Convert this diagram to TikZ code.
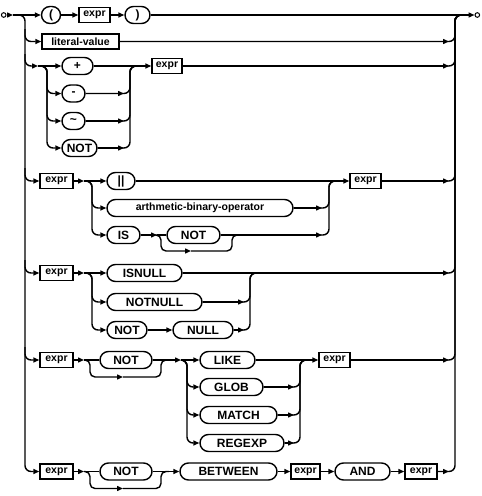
\documentclass[tikz,border=0pt]{standalone}
\usepackage{fontspec}
\setmainfont{Liberation Sans}
\usetikzlibrary{arrows.meta,calc}
\tikzset{
 rail/.style={line width=1.4pt},
 arr/.style={-{Triangle[length=6pt,width=5pt]}},
 rc/.style={rounded corners=6pt},
 rs/.style={rounded corners=5pt},
 kw/.style={draw, line width=1.4pt, rounded corners=8.5pt, minimum height=17pt, inner sep=0pt, font=\fontsize{12}{12}\selectfont\bfseries},
 bx/.style={draw, line width=1.4pt, minimum height=15pt, inner sep=0pt, font=\fontsize{10.5}{10.5}\selectfont\bfseries},
 term/.style={draw, circle, line width=1pt, minimum size=4.6pt, inner sep=0pt},
}
\begin{document}
\begin{tikzpicture}[x=1pt,y=-1pt]
\useasboundingbox (0,0) rectangle (482,496);

% ---------- junction coordinates ----------
\coordinate (a1) at (13,15);
\coordinate (Lm) at (25,300);
\coordinate (L2) at (25,29);
\coordinate (L3) at (25,54);
\coordinate (L4) at (25,168);
\coordinate (L5) at (25,260);
\coordinate (L6) at (25,347);
\coordinate (R1) at (455,15);
\coordinate (c3) at (38,66);
\coordinate (s3) at (47,66);
\coordinate (mg3) at (130,66);
\coordinate (c4) at (84,181);
\coordinate (s4) at (92,181);
\coordinate (c4b) at (157,235);
\coordinate (s4b) at (161,235);
\coordinate (b4) at (191,251);
\coordinate (mo4) at (232,235);
\coordinate (mg4) at (329,181);
\coordinate (c5) at (84,273);
\coordinate (s5) at (92,273);
\coordinate (mg5) at (250,273);
\coordinate (c6) at (84,360);
\coordinate (s6) at (90,360);
\coordinate (b6) at (123,377);
\coordinate (mo6) at (161,360);
\coordinate (c6b) at (181,360);
\coordinate (s6b) at (187,360);
\coordinate (mg6) at (300,360);
\coordinate (c7) at (84,471.5);
\coordinate (s7) at (90,471.5);
\coordinate (b7) at (123,488.5);
\coordinate (mo7) at (161,471.5);

% ---------- nodes ----------
\node[term] (S) at (3.7,15) {};
\node[term] (E) at (477.3,15) {};
% row 1
\node[kw, minimum width=19pt] (lp) at (51,15) {(};
\node[bx, minimum width=31pt] (e1) at (94.5,15) {expr};
\node[kw, minimum width=25pt] (rp) at (137.5,15) {)};
% row 2
\node[bx, minimum width=77pt] (lit) at (80.5,41.5) {literal-value};
% row 3
\node[kw, minimum width=31pt] (plus) at (77.5,66) {+};
\node[kw, minimum width=23pt] (minus) at (73.5,93.5) {-};
\node[kw, minimum width=23pt] (tilde) at (73.5,121) {\textasciitilde};
\node[kw, minimum width=35pt] (not3) at (79.5,148) {NOT};
\node[bx, minimum width=30pt] (e3) at (167,66) {expr};
% row 4
\node[bx, minimum width=33pt] (e4) at (56.5,181) {expr};
\node[kw, minimum width=28pt] (bar) at (121,181) {||};
\node[kw, minimum width=186pt, font=\fontsize{10.5}{10.5}\selectfont\bfseries] (arith) at (200,208) {arthmetic-binary-operator};
\node[kw, minimum width=33pt] (is) at (123.5,235) {IS};
\node[kw, minimum width=53pt] (not4) at (193.5,235) {NOT};
\node[bx, minimum width=31pt] (e4b) at (365.5,181) {expr};
% row 5
\node[bx, minimum width=33pt] (e5) at (56.5,273) {expr};
\node[kw, minimum width=75pt] (isnull) at (144.5,273) {ISNULL};
\node[kw, minimum width=95pt] (notnull) at (154.5,302) {NOTNULL};
\node[kw, minimum width=40pt] (not5) at (127,330) {NOT};
\node[kw, minimum width=60pt] (null) at (203,330) {NULL};
% row 6
\node[bx, minimum width=33pt] (e6) at (56.5,360) {expr};
\node[kw, minimum width=52pt] (not6) at (126,360) {NOT};
\node[kw, minimum width=55pt] (like) at (227.5,360) {LIKE};
\node[kw, minimum width=63pt] (glob) at (231.5,387) {GLOB};
\node[kw, minimum width=77pt] (match) at (238.5,415) {MATCH};
\node[kw, minimum width=84pt] (regexp) at (242,443) {REGEXP};
\node[bx, minimum width=31pt] (e6b) at (334.5,360) {expr};
% row 7
\node[bx, minimum width=33pt] (e7) at (56.5,471.5) {expr};
\node[kw, minimum width=52pt] (not7) at (126,471.5) {NOT};
\node[kw, minimum width=97pt] (between) at (228.5,471.5) {BETWEEN};
\node[bx, minimum width=29pt] (e7b) at (305.5,471.5) {expr};
\node[kw, minimum width=55pt] (and) at (362.5,471.5) {AND};
\node[bx, minimum width=32pt] (e7c) at (421,471.5) {expr};

% ---------- left spine ----------
\draw[rail,arr] (S.east) -- (a1);
\draw[rail,rc,arr] (a1) -| (Lm) |- (e7.west);
\draw[rail,rc,arr] (L2) |- (lit.west);
\draw[rail,rc,arr] (L3) |- (c3);
\draw[rail,rc,arr] (L4) |- (e4.west);
\draw[rail,rc,arr] (L5) |- (e5.west);
\draw[rail,rc,arr] (L6) |- (e6.west);

% ---------- row 1 ----------
\draw[rail,arr] (a1) -- (lp.west);
\draw[rail,arr] (lp.east) -- (e1.west);
\draw[rail,arr] (e1.east) -- (rp.west);
\draw[rail,arr] (rp.east) -- (E.west);

% ---------- row 2 ----------
\draw[rail,rc] (lit.east) -| (R1) -- ++(10,0);
\draw[rail,arr] (lit.east) -- ($(lit.east -| R1)+(-6,0)$);

% ---------- row 3 ----------
\draw[rail,arr] (c3) -- (plus.west);
\draw[rail,rc,arr] (c3) -- (s3) |- (minus.west);
\draw[rail,rc,arr] (c3) -- (s3) |- (tilde.west);
\draw[rail,rc,arr] (c3) -- (s3) |- (not3.west);
\draw[rail,arr] (plus.east) -- (e3.west);
\foreach \n in {minus,tilde,not3}{
  \draw[rail,rc] (\n.east) -| (mg3) -- ++(10,0);
  \draw[rail,arr] (\n.east) -- ($(\n.east -| mg3)+(-6,0)$);
}
\draw[rail,rc] (e3.east) -| (R1) -- ++(10,0);
\draw[rail,arr] (e3.east) -- ($(e3.east -| R1)+(-6,0)$);

% ---------- row 4 ----------
\draw[rail,arr] (e4.east) -- (c4);
\draw[rail,arr] (c4) -- (bar.west);
\draw[rail,rc,arr] (c4) -- (s4) |- (arith.west);
\draw[rail,rc,arr] (c4) -- (s4) |- (is.west);
\draw[rail,arr] (is.east) -- (c4b);
\draw[rail] (c4b) -- (not4.west);
\draw[rail,rs,arr] (c4b) -- (s4b) |- (b4);
\draw[rail,rs] (b4) -| (mo4) -- ++(8,0);
\draw[rail] (not4.east) -- (mo4);
\draw[rail,rc] (mo4) -| (mg4) -- ++(10,0);
\draw[rail,arr] (mo4) -- ($(mo4 -| mg4)+(-7,0)$);
\draw[rail,rc] (arith.east) -| (mg4) -- ++(10,0);
\draw[rail,arr] (arith.east) -- ($(arith.east -| mg4)+(-7,0)$);
\draw[rail,arr] (bar.east) -- (e4b.west);
\draw[rail,rc] (e4b.east) -| (R1) -- ++(10,0);
\draw[rail,arr] (e4b.east) -- ($(e4b.east -| R1)+(-6,0)$);

% ---------- row 5 ----------
\draw[rail,arr] (e5.east) -- (c5);
\draw[rail,arr] (c5) -- (isnull.west);
\draw[rail,rc,arr] (c5) -- (s5) |- (notnull.west);
\draw[rail,rc,arr] (c5) -- (s5) |- (not5.west);
\draw[rail,arr] (not5.east) -- (null.west);
\foreach \n in {notnull,null}{
  \draw[rail,rc] (\n.east) -| (mg5) -- ++(10,0);
  \draw[rail,arr] (\n.east) -- ($(\n.east -| mg5)+(-6,0)$);
}
\draw[rail,rc] (isnull.east) -| (R1) -- ++(10,0);
\draw[rail,arr] (isnull.east) -- ($(isnull.east -| R1)+(-6,0)$);

% ---------- row 6 ----------
\draw[rail,arr] (e6.east) -- (c6);
\draw[rail] (c6) -- (not6.west);
\draw[rail,rs,arr] (c6) -- (s6) |- (b6);
\draw[rail,rs] (b6) -| (mo6) -- ++(8,0);
\draw[rail,arr] (not6.east) -- (c6b);
\draw[rail,arr] (c6b) -- (like.west);
\draw[rail,rc,arr] (c6b) -- (s6b) |- (glob.west);
\draw[rail,rc,arr] (c6b) -- (s6b) |- (match.west);
\draw[rail,rc,arr] (c6b) -- (s6b) |- (regexp.west);
\foreach \n in {glob,match,regexp}{
  \draw[rail,rc] (\n.east) -| (mg6) -- ++(10,0);
  \draw[rail,arr] (\n.east) -- ($(\n.east -| mg6)+(-6,0)$);
}
\draw[rail,arr] (like.east) -- (e6b.west);
\draw[rail,rc] (e6b.east) -| (R1) -- ++(10,0);
\draw[rail,arr] (e6b.east) -- ($(e6b.east -| R1)+(-6,0)$);

% ---------- row 7 ----------
\draw[rail,arr] (e7.east) -- (c7);
\draw[rail] (c7) -- (not7.west);
\draw[rail,rs,arr] (c7) -- (s7) |- (b7);
\draw[rail,rs] (b7) -| (mo7) -- ++(8,0);
\draw[rail,arr] (not7.east) -- (between.west);
\draw[rail,arr] (between.east) -- (e7b.west);
\draw[rail,arr] (e7b.east) -- (and.west);
\draw[rail,arr] (and.east) -- (e7c.west);
\draw[rail,rc] (e7c.east) -| (R1) -- ++(10,0);
\draw[rail,arr] (e7c.east) -- ($(e7c.east -| R1)+(-6,0)$);
\end{tikzpicture}
\end{document}
